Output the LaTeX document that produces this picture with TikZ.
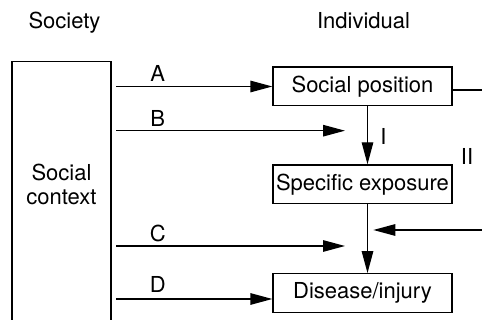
\documentclass[tikz,border=0pt]{standalone}
\usepackage{fontspec}
\setmainfont{TeX Gyre Heros}
\usetikzlibrary{arrows.meta}

\begin{document}
\begin{tikzpicture}[x=1pt,y=1pt]
		\begin{scope}[scale=1]
		
		\tikzstyle{mybox}=[rectangle,
		draw=black,
		line width=1.3pt,
		inner sep=0pt,
		minimum width=179pt,
		minimum height=38.5pt,
		font=\fontsize{22}{26}\selectfont
		]
		\tikzstyle{mytext}=[inner sep=0pt,
		font=\fontsize{22}{26}\selectfont
		]
		\tikzstyle{myarrow}=[line width=1.3pt,
		-{Triangle[length=22pt,width=11.5pt]}
		]
		
		\clip (0,0) rectangle (482,320);
		
		\coordinate (pctx) at (61.5, 119);
		\coordinate (ptxt) at (61.5, 136);
		\coordinate (psp) at (362.5, 233.8);
		\coordinate (pexp) at (362.5, 135.8);
		\coordinate (pdis) at (362.5, 27);
		
		\coordinate (a1) at (116, 233.5);
		\coordinate (b1) at (116, 189.3);
		\coordinate (b2) at (345, 189.3);
		\coordinate (c1) at (116, 74);
		\coordinate (c2) at (345, 74);
		\coordinate (d1) at (116, 21);
		\coordinate (vx) at (367.5, 0);
		\coordinate (r1) at (490, 230);
		\coordinate (r2) at (490, 90);
		\coordinate (r3) at (373.3, 90);
		
		\node[mytext, anchor=base] (society) at (64.5, 291) {Society};
		\node[mytext, anchor=base] (individual) at (363.5, 291) {Individual};
		
		\node[mybox, minimum width=99pt, minimum height=278.5pt] (ctx) at (pctx) {};
		\node[mytext, align=center, font=\fontsize{22}{24}\selectfont] (ctxtext) at (ptxt) {Social\\context};
		
		\node[mybox] (sp) at (psp) {Social position};
		\node[mybox] (exp) at (pexp) {Specific exposure};
		\node[mybox] (dis) at (pdis) {Disease/injury};
		
		\draw[myarrow] (a1) -- (sp.west |- a1);
		\draw[myarrow] (b1) -- (b2);
		\draw[myarrow] (c1) -- (c2);
		\draw[myarrow] (d1) -- (dis.west |- d1);
		
		\draw[myarrow] (sp.south -| vx) -- (exp.north -| vx);
		\draw[myarrow] (exp.south -| vx) -- (dis.north -| vx);
		\draw[line width=1.3pt] (sp.east |- r1) -- (r1);
		\draw[myarrow] (r2) -- (r3);
		
		\node[mytext, anchor=base] (la) at (157.7, 238) {A};
		\node[mytext, anchor=base] (lb) at (157.7, 193) {B};
		\node[mytext, anchor=base] (lc) at (157.7, 78) {C};
		\node[mytext, anchor=base] (ld) at (157.7, 27) {D};
		\node[mytext, anchor=base] (li) at (383.5, 175) {I};
		\node[mytext, anchor=base] (lii) at (467, 155) {II};
		
		\end{scope}
		\end{tikzpicture}
\end{document}
